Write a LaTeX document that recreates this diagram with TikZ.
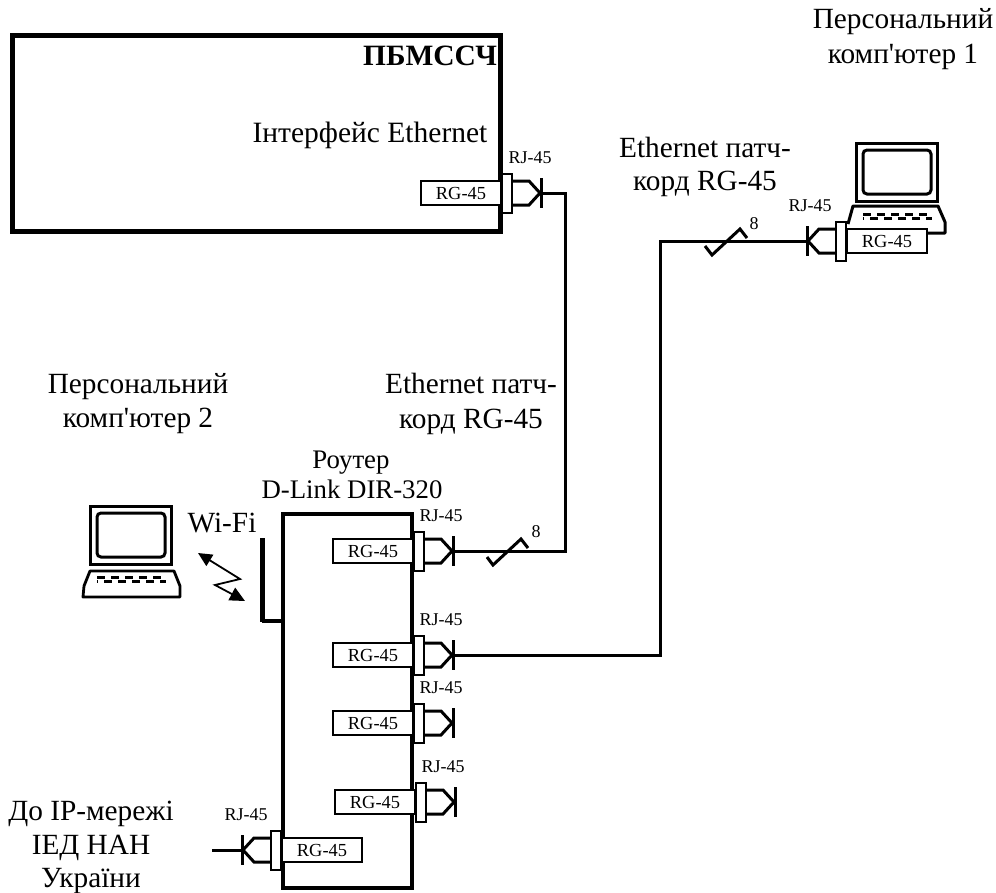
\documentclass[tikz,border=0pt]{standalone}
\usepackage{fontspec}
\setmainfont{Liberation Serif}
\usetikzlibrary{arrows.meta}
\tikzset{
  x=1pt,y=-1pt,
  lbl/.style={font=\fontsize{29.3}{33}\selectfont,inner sep=0pt,anchor=base},
  lblr/.style={font=\fontsize{26.8}{30}\selectfont,inner sep=0pt,anchor=base},
  rgbox/.style={draw,line width=1.6pt,fill=white,minimum width=80pt,minimum height=24.5pt,inner sep=0pt,outer sep=0pt,font=\fontsize{18.4}{20}\selectfont},
  rjlabel/.style={inner sep=0pt,font=\fontsize{18}{20}\selectfont},
  flange/.style={draw,line width=2.8pt,fill=white},
  wire/.style={line width=3pt,line join=miter},
  bodybox/.style={draw,inner sep=0pt,outer sep=0pt},
  pics/conn/.style={code={
    \node[rgbox] (-rg) at (-41,0) {RG-45};
    \draw[flange] (0,-19) rectangle (10,20);
    \draw[wire] (10,-12) -- (27,-12) -- (38,0) -- (27,12) -- (10,12);
    \draw[line width=3pt] (39,-15) -- (39,15);
    \coordinate (-tip) at (39,0);
    \node[rjlabel] (-rj) at (#1,-35) {RJ-45};
  }},
  pics/laptop/.style={code={
    \draw[line width=3pt] (0,0) rectangle (81,58);
    \draw[line width=3pt,rounded corners=4pt] (7,7) rectangle (75,51);
    \draw[line width=3pt,dash pattern=on 8pt off 6pt] (7,71) -- (76,71);
    \draw[line width=3pt,dash pattern=on 8pt off 6pt,dash phase=7pt] (7,75.5) -- (76,75.5);
  }}
}
\begin{document}
\begin{tikzpicture}
\useasboundingbox (0,0) rectangle (996,892);
% main box
\node[bodybox,line width=5pt,minimum width=488pt,minimum height=196pt] (pbm) at (256,133) {};
% router
\node[bodybox,line width=3.6pt,minimum width=129pt,minimum height=374pt] (router) at (347.5,701) {};

% connectors
\pic (c1) at (502,193) {conn=28};
\pic (c2) at (414,551) {conn=27};
\pic (c3) at (414,655) {conn=27};
\pic (c4) at (414,723) {conn=27};
\pic (c5) at (416,802) {conn=27};
\pic[xscale=-1] (c6) at (281,850) {conn=35};
\pic[xscale=-1] (c7) at (846,241) {conn=36};

% wires
\coordinate (e1) at (565,193);
\coordinate (e2) at (565,551);
\coordinate (e3) at (660,655);
\coordinate (e4) at (660,241);
\coordinate (free) at (212,850);
\draw[wire] (c1-tip) -- (e1) -- (e2) -- (c2-tip);
\draw[wire] (c3-tip) -- (e3) -- (e4) -- (c7-tip);
\draw[wire] (c6-tip) -- (free);

% bus ticks
\draw[wire] (487,557) -- (493,565) -- (521,539) -- (528,548);
\draw[wire] (705,246) -- (712,255) -- (740,229) -- (747,238);
\node[rjlabel] (n8a) at (536,532) {8};
\node[rjlabel] (n8b) at (754,224) {8};

% laptop 1
\pic at (856,143) {laptop};
\draw[line width=3pt,line join=round] (848,224) -- (853,206) -- (938,206) -- (945,222) -- (945,233) -- (927,233);
% laptop 2
\pic at (90,506) {laptop};
\draw[line width=2.8pt,line join=round] (84,586) -- (90,571) -- (174,571) -- (180,586) -- (180,597) -- (83,597) -- cycle;

% wifi antenna
\draw[line width=5pt] (262,538) -- (262,622);
\draw[line width=3.6pt] (262,621) -- (283,621);
\draw[line width=1.8pt,{Triangle[length=14pt,width=13pt]}-{Triangle[length=15pt,width=14pt]}] (198,553) -- (240,579) -- (215,585) -- (245,601);

% labels
\node[lbl,font=\fontsize{29.5}{33}\selectfont\bfseries] (t1) at (430,65) {ПБМССЧ};
\node[lbl,font=\fontsize{29.5}{33}\selectfont] (t2) at (370,142) {Інтерфейс Ethernet};
\node[lbl] (t3) at (903,28) {Персональний};
\node[lbl] (t4) at (903,63) {комп\textquotesingle ютер 1};
\node[lbl] (t5) at (705,157) {Ethernet патч-};
\node[lbl] (t6) at (705,190) {корд RG-45};
\node[lbl] (t7) at (471,393) {Ethernet патч-};
\node[lbl] (t8) at (471,428) {корд RG-45};
\node[lbl] (t9) at (138,393) {Персональний};
\node[lbl] (t10) at (138,427) {комп\textquotesingle ютер 2};
\node[lblr] (t11) at (351,468) {Роутер};
\node[lblr] (t12) at (352,498) {D-Link DIR-320};
\node[lbl] (t13) at (222,532) {Wi-Fi};
\node[lbl] (t14) at (91,820) {До IP-мережі};
\node[lbl] (t15) at (91,854) {ІЕД НАН};
\node[lbl] (t16) at (91,887) {України};
\end{tikzpicture}
\end{document}
